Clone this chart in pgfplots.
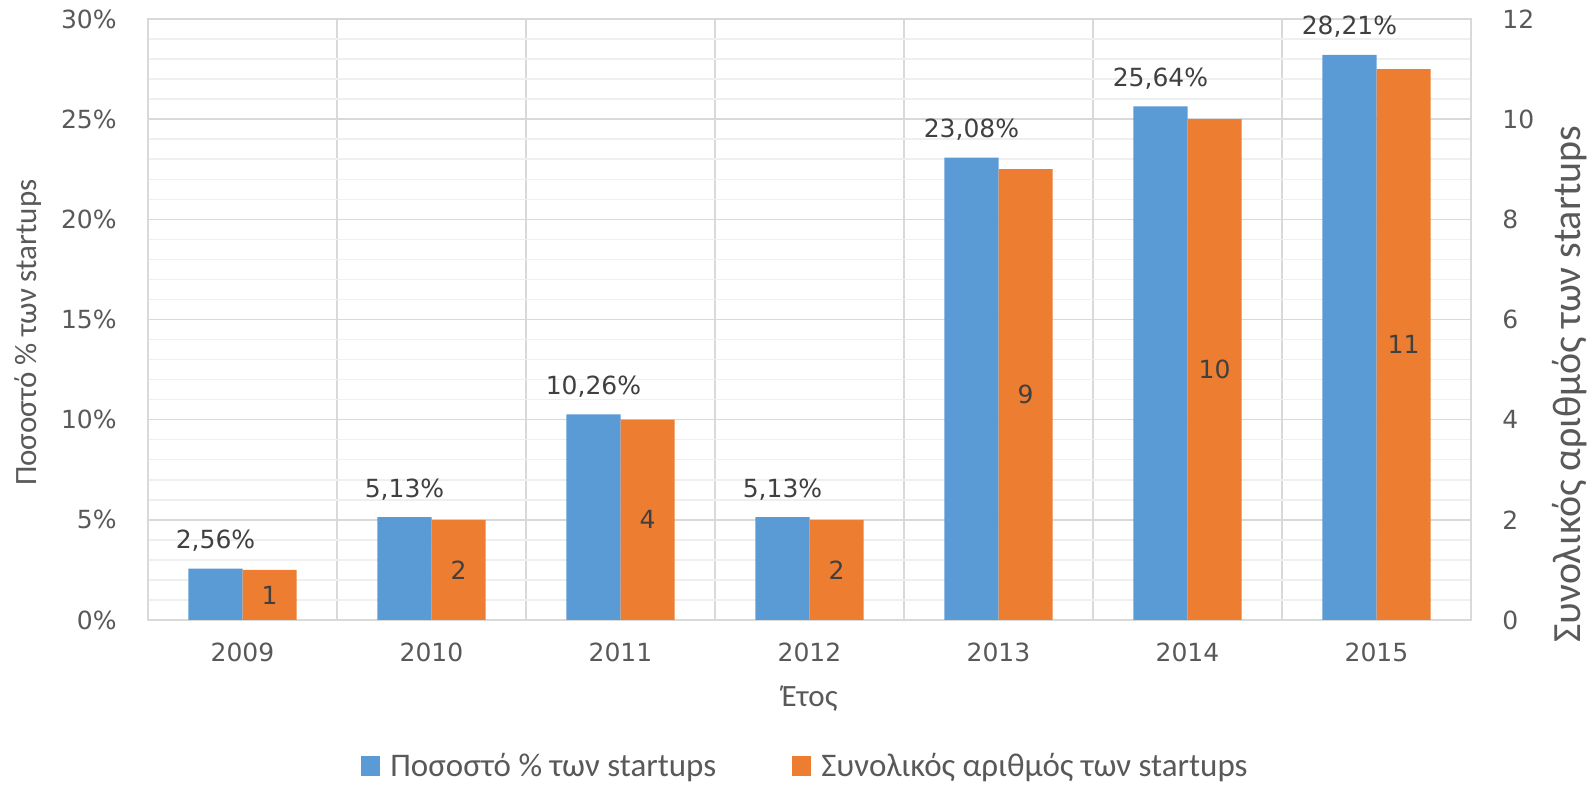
\documentclass[border=0pt]{standalone}
\usepackage{pgfplots}
\pgfplotsset{compat=1.18}
\usepackage{fontspec}
\setmainfont{Carlito}
\newfontfamily\numfont{DejaVu Sans}
\definecolor{barblue}{HTML}{5B9BD5}
\definecolor{barorange}{HTML}{ED7D31}
\definecolor{ticktext}{HTML}{595959}
\definecolor{labeltext}{HTML}{404040}
\definecolor{gridmajor}{HTML}{D9D9D9}
\definecolor{gridminor}{HTML}{EFEFEF}

\pgfplotsset{
  base/.style={
    at={(74pt,83pt)}, anchor=south west,
    scale only axis, width=661.5pt, height=300.5pt,
    xmin=-0.5, xmax=6.5, ymin=0,
    ybar, bar width=0.286,
    /pgf/number format/assume math mode=true,
    major tick length=0pt, minor tick length=0pt,
    tick label style={font=\numfont\fontsize{12.5}{14}\selectfont, text=ticktext},
    label style={text=ticktext},
  },
}

\begin{document}
\begin{tikzpicture}
\useasboundingbox (0,0) rectangle (796.5pt,393pt);

% left axis: share of startups
\begin{axis}[base,
  ymax=30,
  xtick={0,...,6},
  xticklabels={2009,2010,2011,2012,2013,2014,2015},
  xticklabel style={inner sep=0pt, anchor=north, yshift=-11.5pt},
  minor xtick={0.5,1.5,...,5.5},
  ytick={0,5,...,30},
  minor ytick={1,2,3,4,6,7,8,9,11,12,13,14,16,17,18,19,21,22,23,24,26,27,28,29},
  yticklabel={\pgfmathprintnumber{\tick}\%},
  yticklabel style={inner sep=0pt, anchor=east, xshift=-15.5pt},
  xminorgrids, ymajorgrids, yminorgrids,
  major y grid style={gridmajor, line width=0.75pt},
  minor y grid style={gridminor, line width=0.75pt},
  minor x grid style={gridmajor, line width=0.75pt},
  axis line style={gridmajor, line width=0.75pt},
  xlabel={Έτος},
  xlabel style={at={(axis description cs:0.5,-0.1315)}, anchor=center,
    font=\fontsize{15.5}{18}\selectfont},
  ylabel={Ποσοστό \% των startups},
  ylabel style={at={(axis description cs:-0.0907,0.478)}, anchor=center,
    font=\fontsize{15.5}{18}\selectfont},
]
\addplot[fill=barblue, draw=none, bar shift=-0.143,
  nodes near coords={\pgfmathprintnumber[fixed,fixed zerofill,precision=2,use comma]{\pgfplotspointmeta}\%},
  nodes near coords align={anchor=base},
  every node near coord/.append style={font=\numfont\fontsize{12.5}{14}\selectfont,
    text=labeltext, yshift=10pt}]
coordinates {(0,2.56) (1,5.13) (2,10.26) (3,5.13) (4,23.08) (5,25.64) (6,28.21)};
\end{axis}

% right axis: number of startups
\begin{axis}[base,
  ymax=12,
  xtick=\empty,
  ytick={0,2,...,12},
  yticklabel pos=right,
  yticklabel style={inner sep=0pt, anchor=west, xshift=15.5pt},
  axis line style={draw=none},
  ylabel={Συνολικός αριθμός των startups},
  ylabel style={at={(axis description cs:1.0748,0.392)}, anchor=center, rotate=0,
    font=\fontsize{20}{24}\selectfont},
  legend style={at={(axis description cs:0.5,-0.243)}, anchor=center,
    draw=none, fill=none, legend columns=2,
    font=\fontsize{16.5}{19}\selectfont, text=ticktext,
    /tikz/every even column/.append style={column sep=33pt}},
  legend image code/.code={\fill[#1] (0pt,-4.8pt) rectangle (9.5pt,4.8pt);},
  legend style={nodes={inner xsep=5pt}},
]
\addlegendimage{fill=barblue, draw=none}
\addlegendentry{Ποσοστό \% των startups}
\addplot[fill=barorange, draw=none, bar shift=0.143,
  visualization depends on={rawy \as \rawy},
  nodes near coords,
  nodes near coords align={anchor=center},
  every node near coord/.append style={font=\numfont\fontsize{12.5}{14}\selectfont,
    text=labeltext, shift={(axis direction cs:0,-\rawy/2)}}]
coordinates {(0,1) (1,2) (2,4) (3,2) (4,9) (5,10) (6,11)};
\addlegendentry{Συνολικός αριθμός των startups}
\end{axis}
\end{tikzpicture}
\end{document}
